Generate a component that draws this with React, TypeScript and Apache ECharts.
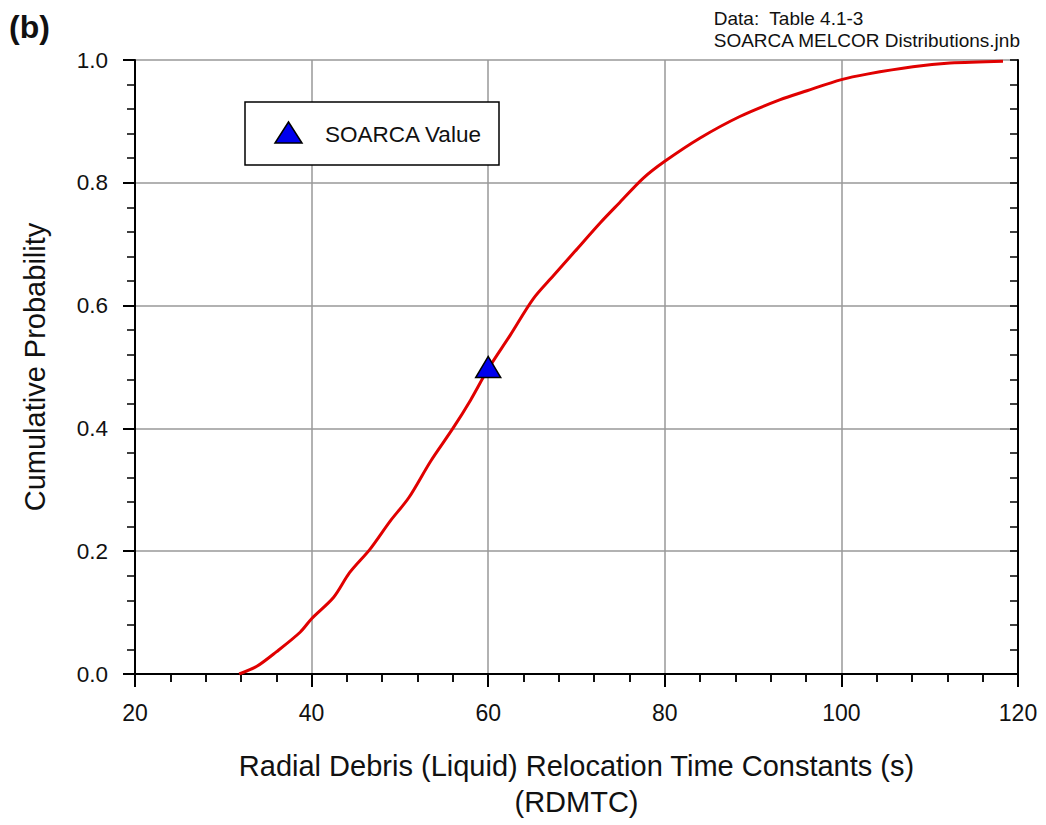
import React, { useEffect, useRef } from "react";
import * as echarts from "echarts";

const rdmtcValues = [31.8, 33.8, 36.0, 38.7, 40.0, 42.5, 44.3, 46.6, 48.9, 51.0, 53.5, 56.0, 58.0, 60.0, 62.5, 65.1, 67.4, 69.8, 72.7, 74.9, 77.6, 80.0, 84.0, 88.5, 93.0, 96.1, 100.0, 102.9, 108.1, 112.3, 118.3];
const cumulativeProb = [0, 0.0125, 0.036, 0.068, 0.09, 0.125, 0.165, 0.203, 0.249, 0.287, 0.347, 0.4, 0.446, 0.497, 0.552, 0.611, 0.649, 0.688, 0.735, 0.768, 0.808, 0.835, 0.873, 0.908, 0.935, 0.95, 0.968, 0.977, 0.989, 0.995, 0.998];
const soarcaValue = [60, 0.5];
const xTicks = { min: 20, max: 120, interval: 20 };
const yTicks = { min: 0, max: 1, interval: 0.2 };

const FONT = "'Liberation Sans', Arial, sans-serif";

export default function App() {
  const ref = useRef<HTMLDivElement>(null);
  useEffect(() => {
    document.body.style.margin = "0";
    const chart = echarts.init(ref.current!, null, { renderer: "svg" });
    const lineStyle = { color: "#000", width: 2 };
    const baseX = { type: "value", min: xTicks.min, max: xTicks.max, interval: xTicks.interval };
    const baseY = { type: "value", min: yTicks.min, max: yTicks.max, interval: yTicks.interval };
    const hidden = { axisLabel: { show: false }, splitLine: { show: false } };
    chart.setOption({
      animation: false,
      textStyle: { fontFamily: FONT },
      grid: { left: 135, right: 28, top: 60, bottom: 148 },
      xAxis: [
        {
          ...baseX,
          position: "bottom",
          axisLine: { show: true, lineStyle },
          axisTick: { show: true, inside: false, length: 13, lineStyle: { color: "#000", width: 2 } },
          axisLabel: { show: true, margin: 27, fontSize: 23, color: "#111", fontFamily: FONT },
          splitLine: { show: true, lineStyle: { color: "#999", width: 1.5 } },
          name: "Radial Debris (Liquid) Relocation Time Constants (s)\n(RDMTC)",
          nameLocation: "middle",
          nameGap: 74,
          nameTextStyle: { fontSize: 29, color: "#111", lineHeight: 36, fontFamily: FONT },
        },
        {
          ...baseX,
          ...hidden,
          position: "bottom",
          axisLine: { show: false },
          axisTick: { show: false },
          minorTick: { show: true, splitNumber: 5, length: 8, lineStyle: { color: "#000", width: 1.5 } },
        },
        {
          ...baseX,
          ...hidden,
          position: "top",
          axisLine: { show: true, lineStyle },
          axisTick: { show: true, inside: true, length: 8, lineStyle: { color: "#000", width: 1.5 } },
          minorTick: { show: true, splitNumber: 5, length: 8, lineStyle: { color: "#000", width: 1.5 } },
        },
      ],
      yAxis: [
        {
          ...baseY,
          position: "left",
          axisLine: { show: true, lineStyle },
          axisTick: { show: true, inside: false, length: 12, lineStyle: { color: "#000", width: 2 } },
          axisLabel: { show: true, margin: 27, fontSize: 22.5, color: "#111", fontFamily: FONT, formatter: (v: number) => v.toFixed(1) },
          splitLine: { show: true, lineStyle: { color: "#999", width: 1.5 } },
          name: "Cumulative Probability",
          nameLocation: "middle",
          nameGap: 86,
          nameTextStyle: { fontSize: 29, color: "#111", fontFamily: FONT },
        },
        {
          ...baseY,
          ...hidden,
          position: "left",
          axisLine: { show: false },
          axisTick: { show: false },
          minorTick: { show: true, splitNumber: 5, length: 8, lineStyle: { color: "#000", width: 1.5 } },
        },
        {
          ...baseY,
          ...hidden,
          position: "right",
          axisLine: { show: true, lineStyle },
          axisTick: { show: true, inside: true, length: 8, lineStyle: { color: "#000", width: 1.5 } },
          minorTick: { show: true, splitNumber: 5, length: 8, lineStyle: { color: "#000", width: 1.5 } },
        },
      ],
      series: [
        {
          type: "line",
          xAxisIndex: 0,
          yAxisIndex: 0,
          data: rdmtcValues.map((x, i) => [x, cumulativeProb[i]]),
          showSymbol: false,
          smooth: 0.3,
          lineStyle: { color: "#e00000", width: 3 },
          z: 3,
        },
        {
          type: "scatter",
          xAxisIndex: 0,
          yAxisIndex: 0,
          data: [soarcaValue],
          symbol: "triangle",
          symbolSize: [25, 21],
          itemStyle: { color: "#0000ee", borderColor: "#000", borderWidth: 1.5, opacity: 1 },
          z: 5,
        },
      ],
      graphic: [
        {
          type: "text",
          left: 9,
          top: 11,
          style: { text: "(b)", font: `bold 32px ${FONT}`, fill: "#111" },
        },
        {
          type: "text",
          right: 25,
          top: 7,
          style: { text: "Data:  Table 4.1-3\nSOARCA MELCOR Distributions.jnb", font: `19px ${FONT}`, fill: "#111", align: "right", lineHeight: 22 },
        },
        {
          type: "rect",
          shape: { x: 245, y: 102, width: 254, height: 63 },
          style: { fill: "#fff", stroke: "#000", lineWidth: 1.5 },
          z: 10,
        },
        {
          type: "polygon",
          shape: { points: [[288.5, 122], [275, 143], [302, 143]] },
          style: { fill: "#0000ee", stroke: "#000", lineWidth: 1.5 },
          z: 11,
        },
        {
          type: "text",
          x: 325,
          y: 134,
          style: { text: "SOARCA Value", font: `22.5px ${FONT}`, fill: "#111", verticalAlign: "middle" },
          z: 11,
        },
      ],
    });
    return () => chart.dispose();
  }, []);
  return <div ref={ref} style={{ width: 1046, height: 825 }} />;
}
